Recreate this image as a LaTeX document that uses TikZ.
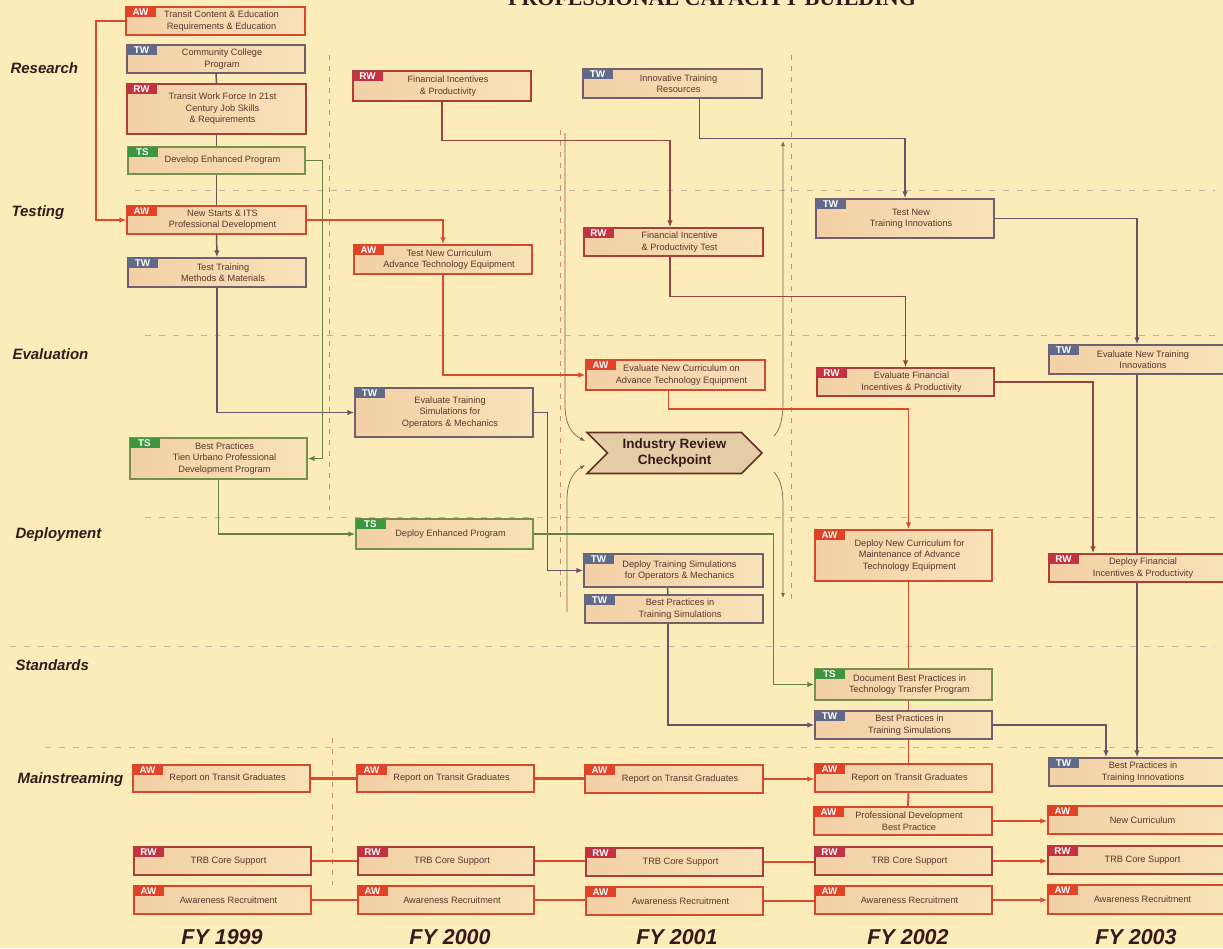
\documentclass[tikz,border=0pt]{standalone}
\usepackage{fontspec}
\setmainfont{Liberation Sans}
\newfontfamily\ttlfont{Liberation Serif}
\usetikzlibrary{arrows.meta,shapes.symbols,calc}

\definecolor{bg}{RGB}{252,236,186}
\definecolor{boxL}{RGB}{243,208,165}
\definecolor{boxR}{RGB}{248,226,184}
\definecolor{AWb}{RGB}{214,72,44}
\definecolor{AWc}{RGB}{226,66,38}
\definecolor{RWb}{RGB}{172,62,58}
\definecolor{RWc}{RGB}{196,50,66}
\definecolor{TWb}{RGB}{112,96,110}
\definecolor{TWc}{RGB}{98,106,138}
\definecolor{TSb}{RGB}{118,146,74}
\definecolor{TSc}{RGB}{62,150,62}
\definecolor{txt}{RGB}{92,52,44}
\definecolor{lbl}{RGB}{55,25,28}
\definecolor{awl}{RGB}{222,74,44}
\definecolor{rwl}{RGB}{150,66,66}
\definecolor{twl}{RGB}{104,86,104}
\definecolor{tsl}{RGB}{102,130,62}
\definecolor{brl}{RGB}{112,82,80}
\definecolor{hgrid}{RGB}{196,178,160}
\definecolor{vgrid}{RGB}{205,140,120}
\definecolor{chkfill}{RGB}{228,204,166}
\definecolor{chkdraw}{RGB}{100,48,38}
\definecolor{thinc}{RGB}{130,96,82}

\tikzset{
  box/.style={rectangle, line width=1.4pt, left color=boxL, right color=boxR, inner sep=0pt},
  tagbox/.style={anchor=north west, inner sep=0pt, minimum width=30pt, minimum height=10.5pt, text=white, font=\fontsize{9.8}{10}\selectfont\bfseries},
  boxtext/.style={align=center, text=txt, font=\fontsize{9.2}{11.4}\selectfont, inner sep=0pt},
  rowlbl/.style={anchor=base west, text=lbl, font=\fontsize{15}{15}\selectfont\bfseries\itshape},
  fylbl/.style={anchor=base, text=lbl, font=\fontsize{21.5}{22}\selectfont\bfseries\itshape},
  ttl/.style={anchor=base, text=lbl, font=\ttlfont\fontsize{22}{22}\selectfont\bfseries},
  arr/.style={-{Latex[length=7pt,width=5.5pt]}},
  sarr/.style={-{Latex[length=5pt,width=4pt]}},
  awc/.style={draw=awl, line width=1.9pt},
  mwc/.style={draw=awl, line width=2.3pt},
  rwc/.style={draw=rwl, line width=1.3pt},
  twc/.style={draw=twl, line width=1.5pt},
  tsc/.style={draw=tsl, line width=1.5pt},
  brc/.style={draw=brl, line width=1.5pt},
  thinline/.style={draw=thinc, line width=0.7pt},
  hgridline/.style={draw=hgrid, line width=0.8pt, dash pattern=on 6pt off 8pt},
  vgridline/.style={draw=vgrid, line width=0.8pt, dash pattern=on 5pt off 6pt},
  chk/.style={shape=signal, signal from=west, signal to=east, minimum width=175pt, minimum height=41pt,
    draw=chkdraw, line width=1.6pt, fill=chkfill, inner sep=0pt, align=center, text=lbl,
    font=\fontsize{13.5}{16}\selectfont\bfseries}
}

\newcommand{\taskbox}[7]{%
  \node[box, draw=#2b, minimum width={(#5-#3)*1pt}, minimum height={(#6-#4)*1pt}] (#1) at ({(#3+#5)/2},{(#4+#6)/2}) {};
  \node[tagbox, fill=#2c] (#1-g) at (#1.north west) {#2};
  \node[boxtext] (#1-t) at ([xshift=6pt]#1.center) {#7};
}

\begin{document}
\begin{tikzpicture}[x=1pt,y=-1pt]
\useasboundingbox (0,0) rectangle (1223,948);
\clip (0,0) rectangle (1223,948);
\fill[bg] (0,0) rectangle (1223,948);

% title
\node[ttl] (title) at (712,5) {PROFESSIONAL CAPACITY BUILDING};

% grid
\draw[hgridline] (135,190) -- (1215,190);
\draw[hgridline] (145,335) -- (1215,335);
\draw[hgridline] (145,517) -- (1215,517);
\draw[hgridline] (10,646) -- (1215,646);
\draw[hgridline] (45,747) -- (1215,747);
\draw[vgridline] (329,55) -- (329,510);
\draw[vgridline] (332,738) -- (332,885);
\draw[vgridline] (560,130) -- (560,600);
\draw[vgridline] (791,55) -- (791,600);

% row labels
\node[rowlbl] (lres) at (7,73) {Research};
\node[rowlbl] (ltes) at (8,216) {Testing};
\node[rowlbl] (leva) at (9,359) {Evaluation};
\node[rowlbl] (ldep) at (12,538) {Deployment};
\node[rowlbl] (lsta) at (12,670) {Standards};
\node[rowlbl] (lmai) at (14,783) {Mainstreaming};

% year labels
\node[fylbl] (fy99) at (222,944) {FY 1999};
\node[fylbl] (fy00) at (450,944) {FY 2000};
\node[fylbl] (fy01) at (677,944.5) {FY 2001};
\node[fylbl] (fy02) at (908,944) {FY 2002};
\node[fylbl] (fy03) at (1136,944) {FY 2003};

% column 1
\taskbox{n1}{AW}{126}{7}{305}{35}{Transit Content \& Education\\Requirements \& Education}
\taskbox{n2}{TW}{127}{45}{305}{73}{Community College\\Program}
\taskbox{n3}{RW}{127}{84}{306}{134}{Transit Work Force In 21st\\Century Job Skills\\\& Requirements}
\taskbox{n4}{TS}{128}{147}{305}{174}{Develop Enhanced Program}
\taskbox{n5}{AW}{127}{206}{306}{234}{New Starts \& ITS\\Professional Development}
\taskbox{n6}{TW}{128}{258}{306}{287}{Test Training\\Methods \& Materials}
\taskbox{n7}{TS}{130}{438}{307}{479}{Best Practices\\Tien Urbano Professional\\Development Program}

% column 2
\taskbox{n8}{RW}{353}{71}{531}{101}{Financial Incentives\\\& Productivity}
\taskbox{n9}{AW}{354}{245}{532}{274}{Test New Curriculum\\Advance Technology Equipment}
\taskbox{n10}{TW}{355}{388}{533}{437}{Evaluate Training\\Simulations for\\Operators \& Mechanics}
\taskbox{n11}{TS}{356}{519}{533}{549}{Deploy Enhanced Program}

% column 3
\taskbox{n12}{TW}{583}{69}{762}{98}{Innovative Training\\Resources}
\taskbox{n13}{RW}{584}{228}{763}{256}{Financial Incentive\\\& Productivity Test}
\taskbox{n14}{AW}{586}{360}{765}{390}{Evaluate New Curriculum on\\Advance Technology Equipment}
\taskbox{n16}{TW}{584}{554}{763}{587}{Deploy Training Simulations\\for Operators \& Mechanics}
\taskbox{n17}{TW}{585}{595}{763}{623}{Best Practices in\\Training Simulations}

% column 4
\taskbox{n18}{TW}{816}{199}{994}{238}{Test New\\Training Innovations}
\taskbox{n19}{RW}{817}{368}{994}{396}{Evaluate Financial\\Incentives \& Productivity}
\taskbox{n20}{AW}{815}{530}{992}{581}{Deploy New Curriculum for\\Maintenance of Advance\\Technology Equipment}
\taskbox{n21}{TS}{815}{669}{992}{700}{Document Best Practices in\\Technology Transfer Program}
\taskbox{n22}{TW}{815}{711}{992}{739}{Best Practices in\\Training Simulations}
\taskbox{n23}{AW}{815}{764}{992}{792}{Report on Transit Graduates}
\taskbox{n24}{AW}{814}{807}{992}{835}{Professional Development\\Best Practice}
\taskbox{n25}{RW}{815}{847}{992}{875}{TRB Core Support}
\taskbox{n26}{AW}{815}{886}{992}{914}{Awareness Recruitment}

% column 5
\taskbox{n27}{TW}{1049}{345}{1225}{374}{Evaluate New Training\\Innovations}
\taskbox{n28}{RW}{1049}{554}{1225}{582}{Deploy Financial\\Incentives \& Productivity}
\taskbox{n29}{TW}{1049}{758}{1225}{786}{Best Practices in\\Training Innovations}
\taskbox{n30}{AW}{1048}{806}{1225}{834}{New Curriculum}
\taskbox{n31}{RW}{1048}{846}{1225}{874}{TRB Core Support}
\taskbox{n32}{AW}{1048}{885}{1225}{914}{Awareness Recruitment}

% mainstreaming columns 1-3
\taskbox{m1r}{AW}{133}{765}{310}{792}{Report on Transit Graduates}
\taskbox{m2r}{AW}{357}{765}{534}{792}{Report on Transit Graduates}
\taskbox{m3r}{AW}{585}{765}{763}{793}{Report on Transit Graduates}
\taskbox{m1t}{RW}{134}{847}{311}{875}{TRB Core Support}
\taskbox{m2t}{RW}{358}{847}{534}{875}{TRB Core Support}
\taskbox{m3t}{RW}{586}{848}{763}{876}{TRB Core Support}
\taskbox{m1a}{AW}{134}{886}{311}{914}{Awareness Recruitment}
\taskbox{m2a}{AW}{358}{886}{534}{914}{Awareness Recruitment}
\taskbox{m3a}{AW}{586}{887}{763}{915}{Awareness Recruitment}

% checkpoint
\node[chk] (chk) at (674.5,453) {Industry Review\\Checkpoint};
\coordinate (lt) at (565,133);
\coordinate (ltend) at (585,441);
\coordinate (lb) at (567,612);
\coordinate (lbend) at (585,465);
\coordinate (rts) at (774,436);
\coordinate (rt) at (783,141);
\coordinate (rbs) at (774,472);
\coordinate (rb) at (783,598);
\draw[thinline,sarr] (lt) -- (565,405) .. controls (565,425) and (572,434) .. (ltend);
\draw[thinline,sarr] (lb) -- (567,500) .. controls (567,480) and (574,472) .. (lbend);
\draw[thinline,sarr] (rts) .. controls (781,428) and (783,418) .. (783,400) -- (rt);
\draw[thinline,sarr] (rbs) .. controls (781,480) and (783,490) .. (783,505) -- (rb);

% connectors column 1
\draw[awc,arr] (n1.west) -- ++(-29,0) |- (n5.west);
\draw[brc] (n2.south) -- (n3.north);
\draw[brc] (n3.south) -- (n4.north);
\draw[brc] (n4.south) -- (n5.north);
\draw[brc,arr] (n5.south) -- (n6.north);
\draw[twc,arr] (n6.south) |- (n10.west);
\draw[tsc,arr] (n4.east) -- ++(17,0) |- (n7.east);
\draw[awc,arr] (n5.east) -| (n9.north);
\draw[tsc,arr] (n7.south) |- (n11.west);

% column 2-3
\draw[rwc,arr] (n8.south) -- ++(0,39) -| ([xshift=-3.5pt]n13.north);
\draw[twc,arr] ([xshift=27pt]n12.south) -- ++(0,40) -| (n18.north);
\draw[awc,arr] (n9.south) |- (n14.west);
\draw[rwc,arr] ([xshift=-3.5pt]n13.south) -- ++(0,40) -| (n19.north);
\draw[twc,arr] (n10.east) -- ++(14,0) |- (n16.west);
\draw[tsc,arr] (n11.east) -- ++(240,0) |- (n21.west);
\draw[awc,arr] ([xshift=-7pt]n14.south) -- ++(0,18) -| ([xshift=5pt]n20.north);
\draw[twc] ([xshift=-6pt]n16.south) -- ([xshift=-6pt]n17.north);
\draw[twc,arr] ([xshift=-6pt]n17.south) |- (n22.west);

% column 4-5
\draw[twc,arr] (n18.east) -| (n27.north);
\draw[rwc,arr] (n19.east) -| ([xshift=-44pt]n28.north);
\draw[twc] (n27.south) -- (n28.north);
\draw[twc,arr] (n28.south) -- (n29.north);
\draw[twc,arr] (n22.east) -| ([xshift=-31pt]n29.north);
\draw[awc] ([xshift=5pt]n20.south) -- ([xshift=5pt]n21.north);
\draw[awc] ([xshift=5pt]n21.south) -- ([xshift=5pt]n22.north);
\draw[awc] ([xshift=5pt]n22.south) -- ([xshift=5pt]n23.north);
\draw[awc] ([xshift=5pt]n23.south) -- ([xshift=5pt]n24.north);

% mainstreaming
\draw[mwc] (m1r.east) -- (m1r.east -| m2r.west);
\draw[mwc] (m2r.east) -- (m2r.east -| m3r.west);
\draw[mwc,arr] (m3r.east) -- (m3r.east -| n23.west);
\draw[mwc] (m1t.east) -- (m1t.east -| m2t.west);
\draw[mwc] (m2t.east) -- (m2t.east -| m3t.west);
\draw[mwc] (m3t.east) -- (m3t.east -| n25.west);
\draw[mwc,arr] (n25.east) -- (n25.east -| n31.west);
\draw[mwc] (m1a.east) -- (m1a.east -| m2a.west);
\draw[mwc] (m2a.east) -- (m2a.east -| m3a.west);
\draw[mwc] (m3a.east) -- (m3a.east -| n26.west);
\draw[mwc,arr] (n26.east) -- (n26.east -| n32.west);
\draw[mwc,arr] (n24.east) -- (n24.east -| n30.west);
\end{tikzpicture}
\end{document}
